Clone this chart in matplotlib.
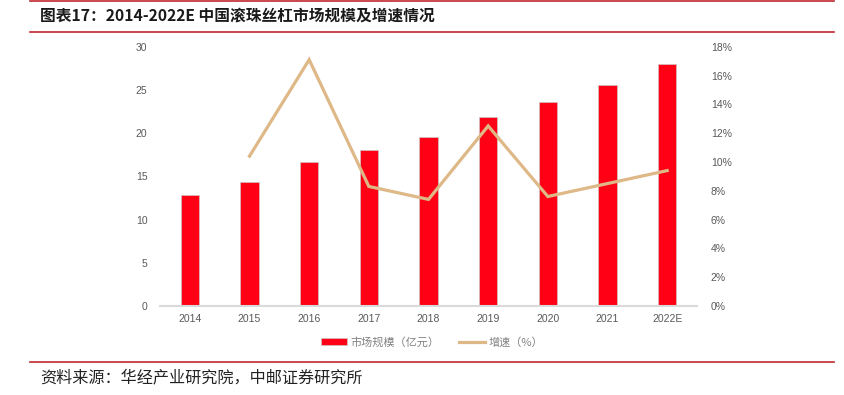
import matplotlib
matplotlib.use('Agg')
import matplotlib.pyplot as plt
from matplotlib.lines import Line2D
from matplotlib.ticker import FuncFormatter

plt.rcParams['font.family'] = ['Noto Sans CJK SC', 'DejaVu Sans']

# 数据
years = ['2014', '2015', '2016', '2017', '2018', '2019', '2020', '2021', '2022E']
market_size = [12.9, 14.3, 16.7, 18.1, 19.5, 21.9, 23.6, 25.6, 28.0]   # 亿元
growth_years = years[1:]
growth = [10.4, 17.1, 8.3, 7.4, 12.5, 7.6, 8.5, 9.4]                # %

title = '图表17：2014-2022E 中国滚珠丝杠市场规模及增速情况'
source = '资料来源：华经产业研究院，中邮证券研究所'

bar_color = '#ff0015'
line_color = '#deb887'
frame_red = '#c0282d'
tick_grey = '#595959'
tick_font = ['Liberation Sans', 'DejaVu Sans']

W, H = 844, 395
fig = plt.figure(figsize=(W / 100, H / 100), dpi=100)

# 坐标区位置 (像素换算)
left, right, top, bottom = 160, 697, 46.7, 306
ax = fig.add_axes([left / W, 1 - bottom / H, (right - left) / W, (bottom - top) / H])

x = list(range(len(years)))
ax.bar(x, market_size, width=0.31, color=bar_color, edgecolor='#cfc4c6',
       linewidth=0.5, label='市场规模（亿元）', zorder=2)
ax.set_xlim(-0.5, len(years) - 0.5)
ax.set_ylim(0, 30)
ax.set_yticks(range(0, 31, 5))
ax.set_xticks(x)
ax.set_xticklabels(years)

for s in ['top', 'right', 'left']:
    ax.spines[s].set_visible(False)
ax.spines['bottom'].set_color('#d9d9d9')
ax.spines['bottom'].set_linewidth(1.5)
ax.tick_params(axis='both', length=0, colors=tick_grey, labelsize=7.5)
ax.tick_params(axis='y', pad=9)
ax.tick_params(axis='x', pad=6)
for lab in ax.get_xticklabels() + ax.get_yticklabels():
    lab.set_family(tick_font)

ax2 = ax.twinx()
gx = [years.index(y) for y in growth_years]
ax2.plot(gx, growth, color=line_color, linewidth=2.3, label='增速（%）',
         solid_joinstyle='miter', zorder=3)
ax2.set_ylim(0, 18)
ax2.set_yticks(range(0, 19, 2))
ax2.yaxis.set_major_formatter(FuncFormatter(lambda v, p: f'{v:.0f}%'))
for s in ['top', 'right', 'left', 'bottom']:
    ax2.spines[s].set_visible(False)
ax2.tick_params(axis='y', length=0, colors=tick_grey, labelsize=7.5, pad=10)
for lab in ax2.get_yticklabels():
    lab.set_family(tick_font)

# 图例
h1, l1 = ax.get_legend_handles_labels()
h2, l2 = ax2.get_legend_handles_labels()
leg = fig.legend(h1 + h2, l1 + l2, loc='center', bbox_to_anchor=(0.512, 0.134),
                 ncol=2, frameon=False, fontsize=8, handlelength=2.3,
                 handleheight=0.6, columnspacing=1.8, handletextpad=0.3)
for t in leg.get_texts():
    t.set_color('#808080')

# 标题和来源
fig.add_artist(Line2D([30 / W, 834 / W], [1 - 1 / H, 1 - 1 / H], color=frame_red, linewidth=1.2))
fig.add_artist(Line2D([30 / W, 834 / W], [1 - 32 / H, 1 - 32 / H], color=frame_red, linewidth=1.2))
fig.add_artist(Line2D([30 / W, 834 / W], [1 - 361.5 / H, 1 - 361.5 / H], color=frame_red, linewidth=1.2))
fig.text(40 / W, 1 - 16 / H, title, fontsize=11.3, fontweight='bold', va='center', ha='left', color='#1a1a1a')
fig.text(40 / W, 1 - 378 / H, source, fontsize=11.6, va='center', ha='left', color='#222222')

fig.savefig('out.png', dpi=100)
